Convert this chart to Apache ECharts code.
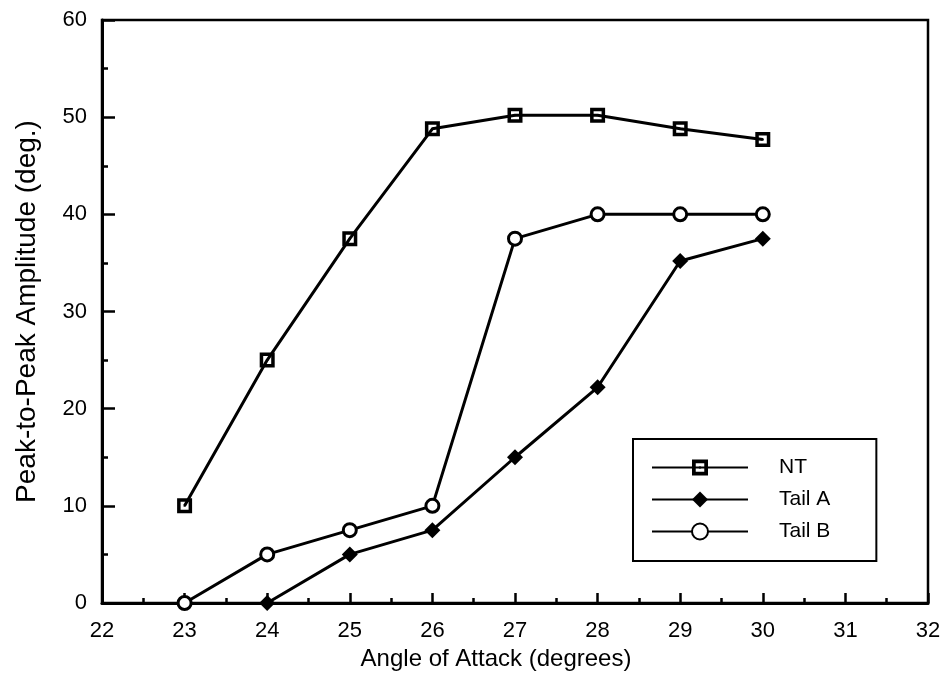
<!DOCTYPE html>
<html>
<head>
<meta charset="utf-8">
<title>Peak-to-Peak Amplitude</title>
<script src="https://cdn.jsdelivr.net/npm/echarts@6/dist/echarts.min.js"></script>
<style>
  html, body { margin: 0; padding: 0; background: #fff; }
  #chart { width: 946px; height: 682px; }
</style>
</head>
<body>
<div id="chart"></div>
<script>
// data
var angles = [23, 24, 25, 26, 27, 28, 29, 30];
var ntAmp = [10, 25, 37.5, 48.8, 50.2, 50.2, 48.8, 47.7];
var tailAAmp = [null, 0, 5, 7.5, 15, 22.2, 35.2, 37.5];
var tailBAmp = [0, 5, 7.5, 10, 37.5, 40, 40, 40];
var seriesNames = ['NT', 'Tail A', 'Tail B'];

var font = "'Liberation Sans', Arial, Helvetica, sans-serif";

// square with a small dot in the middle (hole via reverse winding)
var boxDot = 'path://M0 0H15V15H0Z M3.5 3.5V11.5H11.5V3.5Z M6.5 6.5H8.5V8.5H6.5Z';

function pairs(ys) {
  var out = [];
  for (var i = 0; i < angles.length; i++) {
    if (ys[i] !== null) out.push([angles[i], ys[i]]);
  }
  return out;
}

function lineSeries(name, ys, symbol, size, itemStyle) {
  return {
    name: name,
    type: 'line',
    data: pairs(ys),
    symbol: symbol,
    symbolSize: size,
    showAllSymbol: true,
    clip: false,
    lineStyle: { color: '#000', width: 3 },
    itemStyle: itemStyle,
    z: 3
  };
}

var chart = echarts.init(document.getElementById('chart'));
chart.setOption({
  backgroundColor: '#fff',
  animation: false,
  textStyle: { fontFamily: font, color: '#000' },
  grid: {
    left: 102, right: 18, top: 20, bottom: 79,
    show: true, borderColor: '#000', borderWidth: 2.5
  },
  legend: {
    orient: 'vertical',
    left: 633, top: 439,
    data: seriesNames,
    itemWidth: 96,
    itemHeight: 20,
    itemGap: 11,
    padding: [18, 46, 19, 18],
    borderColor: '#000',
    borderWidth: 2,
    textStyle: { fontSize: 21, color: '#000', fontFamily: font, padding: [0, 0, 0, 26] }
  },
  xAxis: {
    type: 'value',
    min: 22, max: 32, interval: 1,
    name: 'Angle of Attack (degrees)',
    nameLocation: 'middle',
    nameGap: 42,
    nameTextStyle: { fontSize: 24, color: '#000', padding: [0, 38, 0, 0] },
    axisLine: { onZero: false, lineStyle: { color: '#000', width: 3 } },
    axisTick: { inside: true, length: 10, lineStyle: { color: '#000', width: 2.5 } },
    minorTick: { show: true, splitNumber: 2, length: 5, lineStyle: { color: '#000', width: 2.5 } },
    axisLabel: { fontSize: 22, color: '#000', margin: 17 },
    splitLine: { show: false }
  },
  yAxis: {
    type: 'value',
    min: 0, max: 60, interval: 10,
    name: 'Peak-to-Peak Amplitude (deg.)',
    nameLocation: 'middle',
    nameGap: 61,
    nameTextStyle: { fontSize: 28, color: '#000' },
    axisLine: { show: true, onZero: false, lineStyle: { color: '#000', width: 3 } },
    axisTick: { show: true, inside: true, length: 13, lineStyle: { color: '#000', width: 2.5 } },
    minorTick: { show: true, splitNumber: 2, length: 6, lineStyle: { color: '#000', width: 2.5 } },
    axisLabel: { fontSize: 22, color: '#000', margin: 15 },
    splitLine: { show: false }
  },
  series: [
    lineSeries('NT', ntAmp, boxDot, 15, { color: '#000' }),
    lineSeries('Tail A', tailAAmp, 'diamond', 16, { color: '#000' }),
    lineSeries('Tail B', tailBAmp, 'circle', 13,
      { color: '#fff', borderColor: '#000', borderWidth: 3 })
  ]
});
</script>
</body>
</html>
